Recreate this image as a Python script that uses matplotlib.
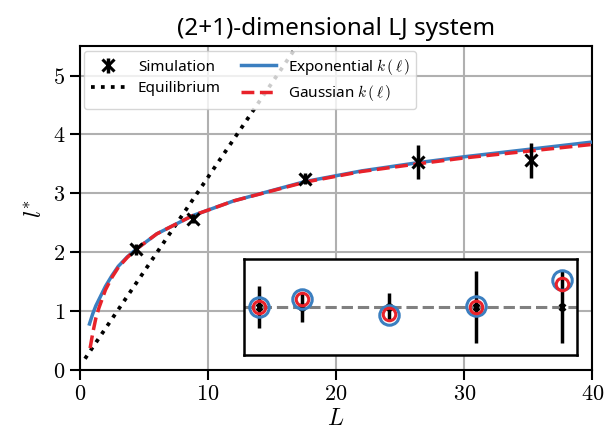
import matplotlib
matplotlib.use("Agg")
import matplotlib.pyplot as plt

plt.rcParams['font.family'] = ['Noto Sans', 'DejaVu Sans']
plt.rcParams['mathtext.fontset'] = 'cm'

# Simulation data
sim_L = [4.4, 8.8, 17.6, 26.4, 35.2]
sim_l = [2.05, 2.57, 3.25, 3.53, 3.56]
sim_err = [0.09, 0.08, 0.09, 0.29, 0.30]

# Equilibrium line
eq_L = [0.4, 17.5]
eq_l = [0.19, 5.68]

# Fitted curves
exp_L = [0.75, 1.0, 1.25, 1.5, 2.0, 2.5, 3.0, 3.7, 4.4, 6.0, 8.8, 12.0, 17.6, 22.0, 26.4, 30.0, 35.2, 40.0]
exp_l = [0.78, 0.95, 1.09, 1.2, 1.42, 1.6, 1.76, 1.92, 2.05, 2.31, 2.62, 2.87, 3.2, 3.38, 3.52, 3.62, 3.75, 3.87]
gau_L = [0.8, 1.0, 1.25, 1.5, 2.0, 2.5, 3.0, 3.7, 4.4, 6.0, 8.8, 12.0, 17.6, 22.0, 26.4, 30.0, 35.2, 40.0]
gau_l = [0.37, 0.62, 0.88, 1.06, 1.36, 1.57, 1.74, 1.91, 2.05, 2.31, 2.62, 2.87, 3.19, 3.37, 3.5, 3.6, 3.72, 3.83]

# Inset: ratios fit / simulation
ins_exp = [1.0, 1.017, 0.984, 1.001, 1.055]
ins_gau = [1.0, 1.016, 0.986, 1.0, 1.048]
ins_sim = [1.0, 1.0, 1.0, 1.0, 1.0]
ins_err = [0.043, 0.032, 0.028, 0.075, 0.075]

xticks = [0, 10, 20, 30, 40]
yticks = [0, 1, 2, 3, 4, 5]

fig = plt.figure(figsize=(6.05, 4.43), dpi=100)
ax = fig.add_axes([0.132, 0.165, 0.847, 0.731])

ax.grid(True, color='#b0b0b0', lw=1.5, zorder=0)
ax.set_axisbelow(True)

h_sim = ax.errorbar(sim_L, sim_l, yerr=sim_err, fmt='x', color='black', ms=9, mew=2.2,
                    elinewidth=2.5, capsize=0, label='Simulation', zorder=5)
h_eq, = ax.plot(eq_L, eq_l, ':', color='black', lw=2.7, label='Equilibrium', zorder=3)
h_exp, = ax.plot(exp_L, exp_l, '-', color='#3b7fc0', lw=2.5,
                 label=r'Exponential $k\,(\,\ell\,)$', zorder=3)
h_gau, = ax.plot(gau_L, gau_l, '--', color='#e8222a', lw=2.5,
                 label=r'Gaussian $k\,(\,\ell\,)$', zorder=4)

ax.set_xlim(0, 40)
ax.set_ylim(0, 5.5)
ax.set_xticks(xticks)
ax.set_xticklabels([f'${t}$' for t in xticks], fontsize=16)
ax.set_yticks(yticks)
ax.set_yticklabels([f'${t}$' for t in yticks], fontsize=16)
ax.tick_params(direction='out', length=7, width=1.5)
for s in ax.spines.values():
    s.set_linewidth(1.5)
ax.set_xlabel(r'$L$', fontsize=17, labelpad=1)
ax.set_ylabel(r'$l^{*}$', fontsize=17, labelpad=4)
ax.set_title('(2+1)-dimensional LJ system', fontsize=17.5, pad=8)

leg = ax.legend(handles=[h_sim, h_eq, h_exp, h_gau], loc='upper left', ncol=2, fontsize=11,
                borderaxespad=0.3, handlelength=2.3, columnspacing=1.3, framealpha=0.8,
                borderpad=0.4, labelspacing=0.4)

ins = ax.inset_axes([0.32, 0.046, 0.651, 0.297])
ins.axhline(1.0, color='gray', ls='--', lw=2.2, zorder=1)
ins.errorbar(sim_L, ins_sim, yerr=ins_err, fmt='x', color='black', ms=5, mew=2,
             elinewidth=2.5, capsize=0, zorder=2)
ins.plot(sim_L, ins_exp, 'o', mfc='none', mec='#3b7fc0', ms=14, mew=2.2, zorder=3)
ins.plot(sim_L, ins_gau, 'o', mfc='none', mec='#e8222a', ms=9, mew=2.2, zorder=4)
ins.set_ylim(0.9, 1.1)
ins.set_xticks([])
ins.set_yticks([])
for s in ins.spines.values():
    s.set_linewidth(1.8)

fig.savefig('out.png', dpi=100)
